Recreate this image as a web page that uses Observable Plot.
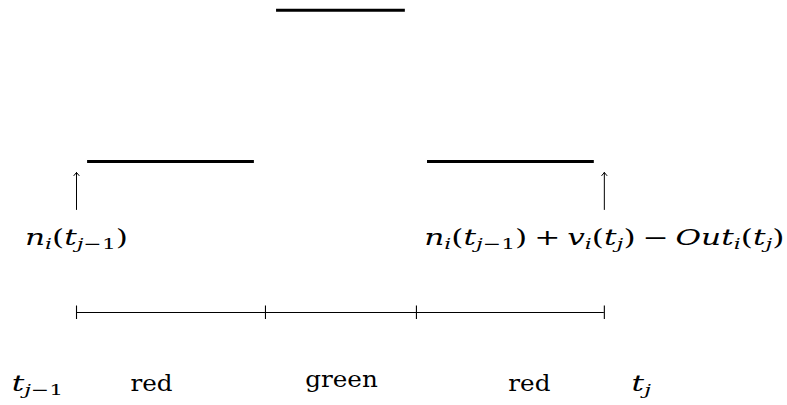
<!DOCTYPE html>
<html>
<head>
<meta charset="utf-8">
<script src="https://cdn.jsdelivr.net/npm/d3@7"></script>
<script src="https://cdn.jsdelivr.net/npm/@observablehq/plot@0.6"></script>
<style>
  html, body { margin: 0; padding: 0; background: #fff; }
  #chart svg { display: block; }
  #chart svg text, #chart svg tspan { font-family: "DejaVu Serif", serif; }
</style>
</head>
<body>
<div id="chart"></div>
<script>
// ---- data (time in units of the interval: t_{j-1} = 0, t_j = 1) ----
const xDomain = [-0.144, 1.347];
const boundaries = [0, 0.358, 0.644, 1];          // tick positions on the interval line
const phases = ["red", "green", "red"];
const barX1 = [0.021, 0.379, 0.665];               // level bars, start
const barX2 = [0.337, 0.623, 0.981];               // level bars, end
const barY = [161, 9.7, 161];                      // vertical position (from top)
const arrowX = [0, 1];
const arrowTail = [209, 209];
const arrowTip = [172, 172];
const mathLabels = ["n_{i}(t_{j−1})", "n_{i}(t_{j−1}) + v_{i}(t_{j}) − Out_{i}(t_{j})"];
const mathLabelX = [0, 1];
const mathLabelY = [244, 244];
const intervalY = 312;
const tickY1 = 305.5, tickY2 = 319;
const bottomLabels = ["t_{j−1}", phases[0], phases[1], phases[2], "t_{j}"];
const bottomLabelX = [-0.074, 0.142, 0.502, 0.858, 1.070];
const bottomLabelY = [390, 390, 386, 390, 390];

const FS = 22;
const FONT = "'DejaVu Serif', serif";
const MATH_STRETCH = 1.42, TEXT_STRETCH = 1.12;

const chart = Plot.plot({
  width: 787,
  height: 405,
  margin: 0,
  style: { background: "#fff", fontFamily: FONT, fontSize: FS + "px", color: "#000" },
  x: { domain: xDomain, range: [0, 787], axis: null },
  y: { domain: [0, 405], range: [0, 405], axis: null },
  marks: [
    // level bars
    Plot.ruleY(d3.range(barY.length), {
      x1: i => barX1[i], x2: i => barX2[i], y: i => barY[i],
      stroke: "#000", strokeWidth: 3
    }),
    // arrows
    Plot.arrow(d3.range(arrowX.length), {
      x1: i => arrowX[i], x2: i => arrowX[i], y1: i => arrowTail[i], y2: i => arrowTip[i],
      stroke: "#000", strokeWidth: 1, headLength: 6, headAngle: 80, bend: 0
    }),
    // interval line
    Plot.ruleY([intervalY], { x1: boundaries[0], x2: boundaries[boundaries.length - 1], y: d => d, stroke: "#000", strokeWidth: 1.1 }),
    Plot.ruleX(boundaries, { x: d => d, y1: tickY1, y2: tickY2, stroke: "#000", strokeWidth: 1.1 }),
    // labels
    Plot.text(d3.range(mathLabels.length), {
      x: i => mathLabelX[i], y: i => mathLabelY[i], text: i => mathLabels[i],
      textAnchor: "middle", fill: "#000", fontSize: FS, fontFamily: FONT, ariaLabel: "math-label"
    }),
    Plot.text(d3.range(bottomLabels.length), {
      x: i => bottomLabelX[i], y: i => bottomLabelY[i], text: i => bottomLabels[i],
      textAnchor: "middle", fill: "#000", fontSize: FS, fontFamily: FONT, ariaLabel: "bottom-label"
    })
  ]
});

document.getElementById("chart").appendChild(chart);

// ---- typeset simple math markup (x_{sub}) into tspans ----
const NS = "http://www.w3.org/2000/svg";
function typeset(textEl, src, fs) {
  while (textEl.firstChild) textEl.removeChild(textEl.firstChild);
  const tokens = [];
  let i = 0;
  while (i < src.length) {
    if (src.startsWith("_{", i)) {
      const j = src.indexOf("}", i);
      for (const ch of src.slice(i + 2, j)) tokens.push({ ch, sub: true });
      i = j + 1;
    } else { tokens.push({ ch: src[i], sub: false }); i++; }
  }
  let cur = null, lastSub = false, pendingDx = 0;
  const shift = 0.2 * fs;
  for (const t of tokens) {
    if (t.ch === " ") { pendingDx += 0.22 * fs; continue; }
    const ital = /[A-Za-z]/.test(t.ch);
    if (!cur || cur._ital !== ital || cur._sub !== t.sub || pendingDx) {
      cur = document.createElementNS(NS, "tspan");
      cur._ital = ital; cur._sub = t.sub;
      if (ital) cur.setAttribute("font-style", "italic");
      if (t.sub) cur.setAttribute("font-size", (0.7 * fs).toFixed(2));
      let dy = 0;
      if (t.sub && !lastSub) dy = shift; else if (!t.sub && lastSub) dy = -shift;
      if (dy) cur.setAttribute("dy", dy.toFixed(2));
      if (pendingDx) { cur.setAttribute("dx", pendingDx.toFixed(2)); pendingDx = 0; }
      lastSub = t.sub;
      textEl.appendChild(cur);
    }
    cur.textContent += t.ch;
  }
}

chart.querySelectorAll("text").forEach(el => {
  const src = el.textContent;
  const isMath = src.includes("_{");
  el.removeAttribute("dy");
  let tr = el.getAttribute("transform") || "";
  if (el.hasAttribute("x")) {
    const x = el.getAttribute("x"), y = el.getAttribute("y") || 0;
    tr = `translate(${x},${y}) ` + tr;
    el.removeAttribute("x");
  }
  el.removeAttribute("y");
  el.setAttribute("transform", tr + ` scale(${isMath ? MATH_STRETCH : TEXT_STRETCH},1)`);
  el.style.fontFamily = FONT;
  if (isMath) typeset(el, src, FS);
});
</script>
</body>
</html>
